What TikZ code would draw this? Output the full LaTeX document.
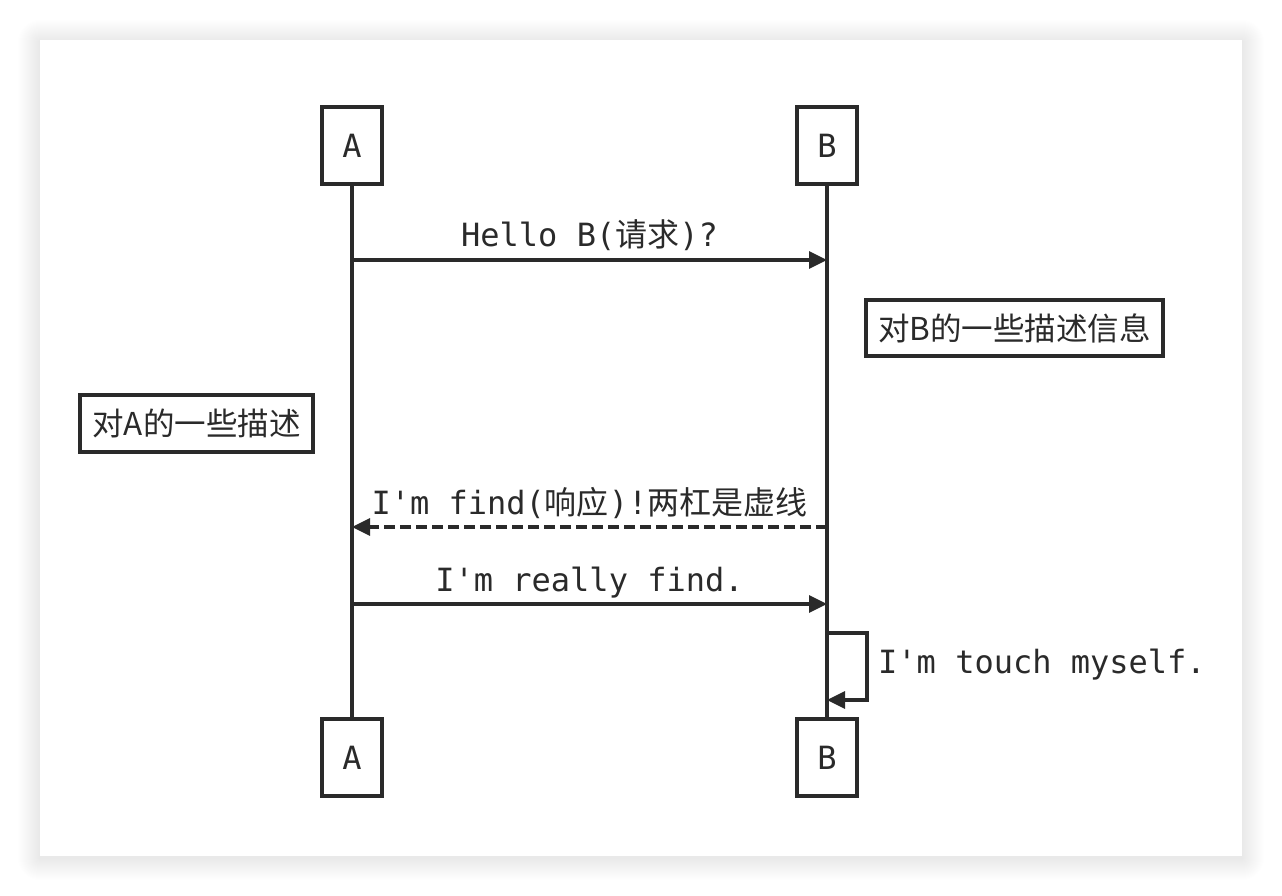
\documentclass[tikz,border=0pt]{standalone}
\usepackage{fontspec}
\usetikzlibrary{arrows.meta}
\newfontfamily\monof{DejaVu Sans Mono}
\newfontfamily\cjk{Noto Sans CJK SC}
\definecolor{ink}{HTML}{2A2A2A}
\tikzset{
  actorbox/.style={draw=ink, line width=3.2pt, fill=white, minimum width=60pt, minimum height=77pt, inner sep=0pt, text=ink, font=\monof\fontsize{32}{38}\selectfont},
  notebox/.style={draw=ink, line width=3.2pt, fill=white, inner sep=0pt, text=ink, font=\cjk\fontsize{31.5}{37}\selectfont},
  lifeline/.style={draw=ink, line width=3.2pt},
  msg/.style={draw=ink, line width=3.2pt, -{Triangle[length=18pt,width=17pt]}},
  msgdash/.style={msg, dash pattern=on 11pt off 5pt},
  msglabel/.style={text=ink, font=\monof\fontsize{32}{38}\selectfont, inner sep=0pt, anchor=base},
}
\begin{document}
\begin{tikzpicture}[x=1pt,y=-1pt]
\useasboundingbox (0,0) rectangle (1282,896);
\fill[white] (0,0) rectangle (1282,896);
% soft shadow of the card
\foreach \i in {1,...,22}{
  \fill[black, opacity=0.003, rounded corners=\i pt] (40-\i,40-\i+2) rectangle (1242+\i,856+\i+2);
}
\fill[white] (40,40) rectangle (1242,856);

% actors
\node[actorbox] (At) at (352,145.5) {\raisebox{-2pt}{A}};
\node[actorbox] (Bt) at (827,145.5) {\raisebox{-2pt}{B}};
\node[actorbox] (Ab) at (352,757.5) {\raisebox{-2pt}{A}};
\node[actorbox] (Bb) at (827,757.5) {\raisebox{-2pt}{B}};

% lifelines
\draw[lifeline] (At.south) -- (Ab.north);
\draw[lifeline] (Bt.south) -- (Bb.north);

% notes
\node[notebox, minimum width=297pt, minimum height=56pt] (nB) at (1014.5,328) {对B的一些描述信息};
\node[notebox, minimum width=233pt, minimum height=57pt] (nA) at (196.5,423.5) {对A的一些描述};

% message points
\coordinate (a1) at (352,260);
\coordinate (b1) at (827,260);
\coordinate (a2) at (352,527);
\coordinate (b2) at (827,527);
\coordinate (a3) at (352,604);
\coordinate (b3) at (827,604);
\coordinate (s1) at (827,633);
\coordinate (s2) at (867,633);
\coordinate (s3) at (867,700);
\coordinate (s4) at (827,700);

\draw[msg] (a1) -- (b1) node[msglabel, midway, yshift=13pt] (l1) {Hello B({\cjk 请求})?};
\draw[msgdash] (b2) -- (a2) node[msglabel, midway, yshift=13pt] (l2) {I'm find({\cjk 响应})!{\cjk 两杠是虚线}};
\draw[msg] (a3) -- (b3) node[msglabel, midway, yshift=13pt] (l3) {I'm really find.};
\draw[msg] (s1) -- (s2) -- (s3) -- (s4);
\node[msglabel, anchor=base west] (l4) at (878,673) {I'm touch myself.};
\end{tikzpicture}
\end{document}
